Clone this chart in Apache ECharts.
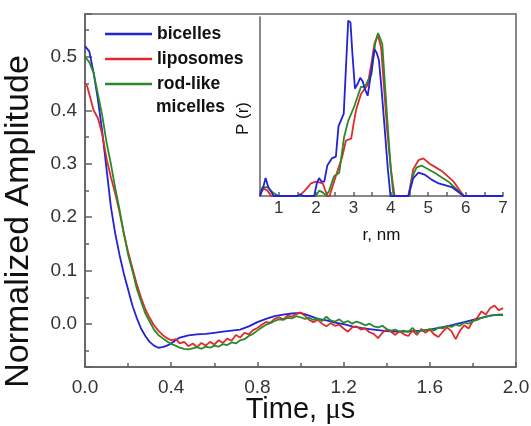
<!doctype html>
<html>
<head>
<meta charset="utf-8">
<title>Normalized amplitude vs time</title>
<script src="https://cdn.jsdelivr.net/npm/echarts@6/dist/echarts.min.js"></script>
<style>
  html, body { margin: 0; padding: 0; background: #fff; }
  #chart { width: 531px; height: 426px; }
</style>
</head>
<body>
<div id="chart"></div>
<script>
// series names
var names = ['bicelles', 'liposomes', 'rod-like micelles'];

// main panel: [time (us), normalized amplitude]
var mainBicelles = [[0,0.52],[0.02,0.51],[0.04,0.47],[0.06,0.42],[0.08,0.36],[0.10,0.29],[0.12,0.22],[0.14,0.17],[0.16,0.13],[0.18,0.095],[0.20,0.065],[0.22,0.035],[0.24,0.012],[0.26,-0.008],[0.28,-0.022],[0.30,-0.033],[0.32,-0.04],[0.34,-0.044],[0.36,-0.043],[0.38,-0.04],[0.40,-0.036],[0.42,-0.03],[0.44,-0.025],[0.48,-0.021],[0.52,-0.019],[0.56,-0.018],[0.60,-0.016],[0.64,-0.014],[0.68,-0.012],[0.72,-0.01],[0.76,-0.004],[0.80,0.004],[0.84,0.01],[0.88,0.015],[0.92,0.018],[0.96,0.02],[1.00,0.021],[1.04,0.016],[1.08,0.01],[1.12,0.007],[1.16,0.003],[1.20,0],[1.24,-0.004],[1.28,-0.007],[1.32,-0.009],[1.36,-0.011],[1.40,-0.013],[1.44,-0.014],[1.48,-0.014],[1.52,-0.013],[1.56,-0.012],[1.60,-0.01],[1.64,-0.007],[1.68,-0.004],[1.72,0],[1.76,0.004],[1.80,0.008],[1.84,0.012],[1.88,0.016],[1.92,0.018],[1.94,0.018]];
var mainLiposomes = [[0,0.45],[0.01,0.445],[0.02,0.43],[0.04,0.40],[0.06,0.385],[0.08,0.355],[0.10,0.31],[0.12,0.275],[0.14,0.245],[0.16,0.21],[0.18,0.17],[0.20,0.135],[0.22,0.105],[0.24,0.075],[0.26,0.05],[0.28,0.028],[0.30,0.012],[0.32,-0.002],[0.34,-0.012],[0.36,-0.02],[0.38,-0.026],[0.40,-0.03],[0.42,-0.028],[0.44,-0.036],[0.46,-0.033],[0.48,-0.041],[0.50,-0.036],[0.52,-0.043],[0.54,-0.035],[0.56,-0.04],[0.58,-0.033],[0.60,-0.038],[0.62,-0.03],[0.64,-0.035],[0.66,-0.027],[0.68,-0.031],[0.70,-0.02],[0.72,-0.025],[0.74,-0.016],[0.76,-0.019],[0.78,-0.011],[0.80,-0.007],[0.82,-0.001],[0.84,0.004],[0.86,0.003],[0.88,0.01],[0.90,0.013],[0.92,0.009],[0.94,0.016],[0.96,0.014],[0.98,0.019],[1.00,0.022],[1.02,0.016],[1.04,0.008],[1.06,0.004],[1.08,0.008],[1.10,0.001],[1.12,-0.004],[1.14,0.002],[1.16,-0.003],[1.18,-0.001],[1.20,-0.008],[1.22,-0.014],[1.24,-0.006],[1.26,-0.004],[1.28,-0.01],[1.30,-0.008],[1.32,-0.015],[1.34,-0.018],[1.36,-0.026],[1.38,-0.016],[1.40,-0.01],[1.42,-0.014],[1.44,-0.02],[1.46,-0.013],[1.48,-0.019],[1.50,-0.022],[1.52,-0.012],[1.54,-0.02],[1.56,-0.009],[1.58,-0.016],[1.60,-0.01],[1.62,-0.019],[1.64,-0.024],[1.66,-0.014],[1.68,-0.006],[1.70,-0.013],[1.72,-0.028],[1.74,-0.012],[1.76,-0.002],[1.78,-0.008],[1.80,0.006],[1.82,0.012],[1.84,0.024],[1.86,0.018],[1.88,0.03],[1.90,0.035],[1.92,0.026],[1.94,0.03]];
var mainRodlike = [[0,0.50],[0.02,0.49],[0.04,0.47],[0.06,0.43],[0.08,0.39],[0.10,0.34],[0.12,0.30],[0.14,0.255],[0.16,0.215],[0.18,0.17],[0.20,0.13],[0.22,0.10],[0.24,0.067],[0.26,0.043],[0.28,0.02],[0.30,0.005],[0.32,-0.01],[0.34,-0.02],[0.36,-0.026],[0.38,-0.032],[0.40,-0.037],[0.42,-0.04],[0.44,-0.044],[0.46,-0.046],[0.48,-0.047],[0.50,-0.045],[0.52,-0.043],[0.54,-0.046],[0.56,-0.042],[0.58,-0.044],[0.60,-0.04],[0.62,-0.042],[0.64,-0.037],[0.66,-0.039],[0.68,-0.034],[0.70,-0.036],[0.72,-0.03],[0.74,-0.028],[0.76,-0.022],[0.78,-0.018],[0.80,-0.012],[0.82,-0.006],[0.84,-0.001],[0.86,0.002],[0.88,0.006],[0.90,0.009],[0.92,0.008],[0.94,0.012],[0.96,0.011],[0.98,0.015],[1.00,0.013],[1.02,0.01],[1.04,0.012],[1.06,0.008],[1.08,0.011],[1.10,0.006],[1.12,0.014],[1.14,0.007],[1.16,0.005],[1.18,0.009],[1.20,0.003],[1.22,0.006],[1.24,0.001],[1.26,0.005],[1.28,0.002],[1.30,-0.002],[1.32,0.001],[1.34,-0.004],[1.36,-0.006],[1.38,-0.003],[1.40,-0.009],[1.42,-0.012],[1.44,-0.01],[1.46,-0.014],[1.48,-0.012],[1.50,-0.015],[1.52,-0.007],[1.54,-0.016],[1.56,-0.012],[1.58,-0.011],[1.60,-0.009],[1.62,-0.012],[1.64,-0.006],[1.66,-0.008],[1.68,-0.003],[1.70,-0.005],[1.72,-0.001],[1.74,-0.003],[1.76,0.003],[1.78,0.001],[1.80,0.006],[1.82,0.008],[1.84,0.012],[1.86,0.014],[1.88,0.016],[1.90,0.017],[1.92,0.017],[1.94,0.017]];

// inset: [r (nm), P(r) arbitrary units]
var insetBicelles = [[0.5,0],[0.55,0.03],[0.6,0.06],[0.65,0.10],[0.72,0.05],[0.78,0.03],[0.87,0],[1.5,0],[1.58,0.01],[1.65,0],[1.95,0],[2.02,0.07],[2.08,0.10],[2.15,0.08],[2.22,0.08],[2.3,0.17],[2.42,0.21],[2.53,0.22],[2.6,0.39],[2.68,0.43],[2.74,0.46],[2.8,0.72],[2.86,0.98],[2.92,0.97],[2.97,0.80],[3.04,0.60],[3.12,0.63],[3.18,0.66],[3.25,0.64],[3.3,0.60],[3.38,0.56],[3.48,0.70],[3.56,0.82],[3.62,0.80],[3.68,0.76],[3.75,0.60],[3.83,0.39],[3.92,0.15],[3.99,0],[4.47,0],[4.6,0.10],[4.74,0.13],[4.9,0.12],[5.1,0.09],[5.28,0.07],[5.63,0.05],[5.95,0],[7,0]];
var insetLiposomes = [[0.5,0],[0.55,0.03],[0.62,0.04],[0.7,0.03],[0.8,0],[1.55,0],[1.7,0.03],[1.86,0.07],[2.0,0.08],[2.18,0.07],[2.3,0],[2.36,0],[2.48,0.08],[2.59,0.15],[2.7,0.22],[2.8,0.31],[2.94,0.32],[3.0,0.40],[3.07,0.48],[3.2,0.57],[3.38,0.62],[3.48,0.74],[3.56,0.85],[3.65,0.90],[3.74,0.83],[3.82,0.60],[3.9,0.37],[4.0,0.15],[4.1,0],[4.47,0],[4.6,0.15],[4.74,0.20],[4.87,0.21],[5.04,0.18],[5.2,0.16],[5.36,0.14],[5.68,0.08],[5.95,0],[7,0]];
var insetRodlike = [[0.5,0.02],[0.57,0.05],[0.7,0.05],[0.84,0.02],[1.0,0],[1.62,0],[2.0,0],[2.08,0.03],[2.18,0.02],[2.27,0],[2.35,0.03],[2.48,0.11],[2.62,0.13],[2.75,0.33],[2.86,0.42],[3.02,0.50],[3.2,0.61],[3.3,0.61],[3.48,0.68],[3.58,0.85],[3.66,0.91],[3.77,0.85],[3.85,0.60],[3.93,0.35],[4.0,0.15],[4.07,0],[4.47,0],[4.6,0.12],[4.69,0.16],[4.82,0.17],[5.17,0.13],[5.54,0.08],[5.95,0],[7,0]];

var colors = ['#2222d6', '#e02a2a', '#2a8a2a'];
var font = 'Arial, "Liberation Sans", sans-serif';
var axisGray = '#606060';

var chart = echarts.init(document.getElementById('chart'));

function lineSeries(name, data, idx, xi, yi, w) {
  return {
    name: name, type: 'line', data: data,
    xAxisIndex: xi, yAxisIndex: yi,
    showSymbol: false, symbol: 'none', animation: false,
    lineStyle: { color: colors[idx], width: w },
    itemStyle: { color: colors[idx] },
    z: 3
  };
}

var option = {
  animation: false,
  backgroundColor: '#fff',
  textStyle: { fontFamily: font },
  grid: [
    { left: 85, top: 14, right: 15, bottom: 59, outerBoundsMode: 'none', containLabel: false,
      show: true, borderColor: axisGray, borderWidth: 1.5, backgroundColor: 'transparent' },
    { left: 260, top: 17, right: 28, bottom: 230, outerBoundsMode: 'none', containLabel: false }
  ],
  legend: {
    data: names,
    left: 100, top: 19, orient: 'vertical',
    icon: 'rect', itemWidth: 47, itemHeight: 2.5, itemGap: 5,
    textStyle: { fontFamily: font, fontSize: 17.5, fontWeight: 'bold', color: '#111', lineHeight: 20 },
    formatter: function (n) { return n === 'rod-like micelles' ? 'rod-like' : n; },
    selectedMode: false
  },
  graphic: [
    { type: 'text', left: 156, top: 98, style: { text: 'micelles', font: 'bold 17.5px ' + font, fill: '#111' } }
  ],
  xAxis: [
    {
      type: 'value', gridIndex: 0, min: 0, max: 2, interval: 0.4,
      name: 'Time, {mu|\u03bc}s', nameLocation: 'middle', nameGap: 28, nameMoveOverlap: false,
      nameTextStyle: { fontSize: 29, lineHeight: 30, color: '#111', fontFamily: font,
        rich: { mu: { fontSize: 29, lineHeight: 30, fontFamily: '"Liberation Serif", "Times New Roman", serif', color: '#111' } } },
      axisLine: { show: true, onZero: false, lineStyle: { color: axisGray, width: 1.5 } },
      axisTick: { inside: true, length: 5, lineStyle: { color: axisGray, width: 1.5 } },
      minorTick: { show: true, splitNumber: 2, length: 4, lineStyle: { color: axisGray, width: 1.5 } },
      axisLabel: { fontSize: 19, color: '#333', margin: 11, formatter: function (v) { return v.toFixed(1); } },
      splitLine: { show: false }
    },
    {
      type: 'value', gridIndex: 1, min: 0.5, max: 7, interval: 0.5,
      name: 'r, nm', nameLocation: 'middle', nameGap: 31, nameMoveOverlap: false,
      nameTextStyle: { fontSize: 17, color: '#111', fontFamily: font },
      axisLine: { show: true, onZero: false, lineStyle: { color: axisGray, width: 1.5 } },
      axisTick: { inside: true, length: 4, lineStyle: { color: axisGray, width: 1.5 } },
      axisLabel: { fontSize: 17, color: '#333', margin: 4,
        formatter: function (v) { return Math.abs(v - Math.round(v)) < 1e-6 ? String(Math.round(v)) : ''; } },
      splitLine: { show: false }
    }
  ],
  yAxis: [
    {
      // minor ticks every 0.05 (auto interval)
      type: 'value', gridIndex: 0, min: -0.08, max: 0.58, splitNumber: 13, position: 'left',
      axisLine: { show: true, onZero: false, lineStyle: { color: axisGray, width: 1.5 } },
      axisTick: { inside: true, length: 4, lineStyle: { color: axisGray, width: 1.5 } },
      axisLabel: { show: false },
      splitLine: { show: false }
    },
    {
      // major ticks every 0.1 with labels (auto interval)
      type: 'value', gridIndex: 0, min: -0.08, max: 0.58, splitNumber: 6, position: 'left', offset: 0,
      name: 'Normalized Amplitude', nameLocation: 'middle', nameGap: 49, nameRotate: 90, nameMoveOverlap: false,
      nameTextStyle: { fontSize: 34, color: '#111', fontFamily: font, padding: [0, 62, 0, 0] },
      axisLine: { show: false },
      axisTick: { inside: true, length: 7, lineStyle: { color: axisGray, width: 1.5 } },
      axisLabel: { fontSize: 19, color: '#333', margin: 8,
        formatter: function (v) { var r = Math.round(v * 10) / 10; return (Math.abs(v - r) < 1e-6 && r >= 0 && r <= 0.5) ? r.toFixed(1) : ''; } },
      splitLine: { show: false }
    },
    {
      type: 'value', gridIndex: 1, min: 0, max: 1,
      name: 'P (r)', nameLocation: 'middle', nameGap: 8, nameRotate: 90, nameMoveOverlap: false,
      nameTextStyle: { fontSize: 17, color: '#111', fontFamily: font, padding: [0, 24, 0, 0] },
      axisLine: { show: true, onZero: false, lineStyle: { color: axisGray, width: 1.5 } },
      axisTick: { show: false },
      axisLabel: { show: false },
      splitLine: { show: false }
    }
  ],
  series: [
    lineSeries(names[0], mainBicelles, 0, 0, 0, 1.8),
    lineSeries(names[1], mainLiposomes, 1, 0, 0, 1.8),
    lineSeries(names[2], mainRodlike, 2, 0, 0, 1.8),
    lineSeries(names[1], insetLiposomes, 1, 1, 2, 1.8),
    lineSeries(names[2], insetRodlike, 2, 1, 2, 1.8),
    lineSeries(names[0], insetBicelles, 0, 1, 2, 1.8)
  ]
};

chart.setOption(option);
</script>
</body>
</html>
